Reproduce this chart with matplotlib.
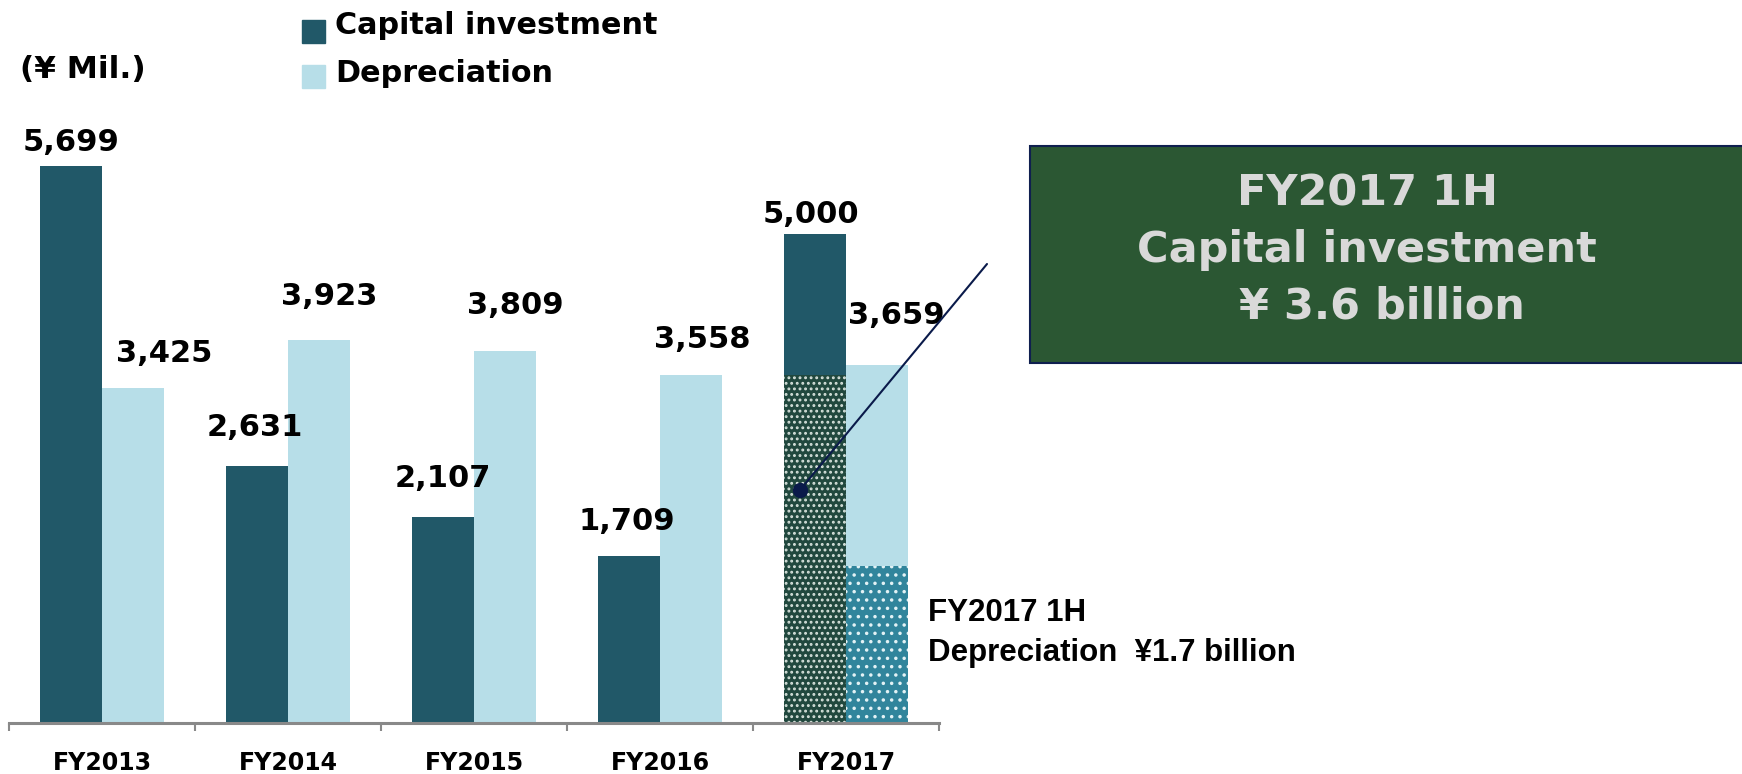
import matplotlib
matplotlib.use("Agg")
import matplotlib.pyplot as plt
import numpy as np

# ── Data ──────────────────────────────────────────────────────────────────────
years = ["FY2013", "FY2014", "FY2015", "FY2016", "FY2017"]
capex = [5699, 2631, 2107, 1709, 5000]
depr = [3425, 3923, 3809, 3558, 3659]
capex_1h = 3560   # FY2017 1H part of capital investment (drawn height)
depr_1h = 1610    # FY2017 1H part of depreciation (drawn height)

# label offsets in pixels (dx, dy to baseline) — layout only
capex_off = [(0, 15), (-2, 30), (0, 30), (-2, 26), (-4, 11)]
depr_off = [(31, 26), (10, 35), (10, 37), (11, 27), (19, 41)]

C_CAP = "#215868"
C_DEP = "#B7DEE8"
C_CAP_1H = "#21483E"
C_DEP_1H = "#31859C"

plt.rcParams["font.family"] = "DejaVu Sans"
plt.rcParams["hatch.linewidth"] = 1.3

fig = plt.figure(figsize=(17.42, 7.74), dpi=100)
ax = fig.add_axes([9 / 1742, 51 / 774, 930 / 1742, 723 / 774])

x = np.arange(len(years))
w = 0.333

ax.bar(x - w / 2, capex, w, color=C_CAP, lw=0)
ax.bar(x + w / 2, depr, w, color=C_DEP, lw=0)

# FY2017 1H overlays (dotted)
ax.bar(x[-1] - w / 2, capex_1h, w, color=C_CAP_1H, edgecolor="#D5E0DA", lw=0, hatch="...")
ax.bar(x[-1] + w / 2, depr_1h, w, color=C_DEP_1H, edgecolor="#E3F2F5", lw=0, hatch="..")

for i in range(len(years)):
    ax.annotate(f"{capex[i]:,}", (x[i] - w / 2, capex[i]), xytext=capex_off[i],
                textcoords="offset pixels", ha="center", va="baseline",
                fontsize=22, fontweight="bold", color="black")
    ax.annotate(f"{depr[i]:,}", (x[i] + w / 2, depr[i]), xytext=depr_off[i],
                textcoords="offset pixels", ha="center", va="baseline",
                fontsize=22, fontweight="bold", color="black")

ax.set_xlim(-0.5, len(years) - 0.5)
ax.set_ylim(0, 7397)
for s in ["top", "right", "left"]:
    ax.spines[s].set_visible(False)
ax.spines["bottom"].set_color("#898989")
ax.spines["bottom"].set_linewidth(2.2)
ax.set_yticks([])
ax.set_xticks(x)
ax.set_xticklabels(years, fontsize=17, fontweight="bold")
ax.tick_params(axis="x", which="major", length=0, pad=20)
ax.set_xticks(np.arange(-0.5, len(years)), minor=True)
ax.tick_params(axis="x", which="minor", length=6, width=1.5, color="#898989")

# annotation line from 1H bar to box
dot_x, dot_y = 3.753, 2384
ax.annotate("", xy=(dot_x, dot_y), xycoords="data",
            xytext=(987 / 1742, 1 - 264 / 774), textcoords="figure fraction",
            arrowprops=dict(arrowstyle="-", color="#0A1A4A", lw=1.5, shrinkA=0, shrinkB=0))
ax.plot([dot_x], [dot_y], "o", color="#0A1A4A", ms=10, clip_on=False)

# ── Texts outside the axes ────────────────────────────────────────────────────
fig.text(20 / 1742, 1 - 69 / 774, "(¥ Mil.)", fontsize=22.5, fontweight="bold",
         ha="left", va="center")

fig.patches.append(plt.Rectangle((302 / 1742, 1 - 43 / 774), 23 / 1742, 23 / 774,
                                 transform=fig.transFigure, color=C_CAP))
fig.patches.append(plt.Rectangle((302 / 1742, 1 - 88 / 774), 23 / 1742, 23 / 774,
                                 transform=fig.transFigure, color=C_DEP))
fig.text(335 / 1742, 1 - 26 / 774, "Capital investment", fontsize=21.8, fontweight="bold",
         ha="left", va="center")
fig.text(335 / 1742, 1 - 73 / 774, "Depreciation", fontsize=21.8, fontweight="bold",
         ha="left", va="center")

# green box
fig.patches.append(plt.Rectangle((1030 / 1742, 1 - 363 / 774), 720 / 1742, 217 / 774,
                                 transform=fig.transFigure, facecolor="#2B5733",
                                 edgecolor="#0F1F4F", lw=1.5))
fig.text(1367 / 1742, 1 - 250 / 774, "FY2017 1H\nCapital investment\n  ¥ 3.6 billion",
         fontsize=31, fontweight="bold", color="#D9D9D9", ha="center", va="center",
         multialignment="center", linespacing=1.45)

fig.text(928 / 1742, 1 - 613 / 774, "FY2017 1H", fontsize=22.5, fontweight="bold",
         family="Liberation Sans", ha="left", va="center")
fig.text(928 / 1742, 1 - 653 / 774, "Depreciation  ¥1.7 billion", fontsize=22.5,
         fontweight="bold", family="Liberation Sans", ha="left", va="center")

fig.savefig("out.png", dpi=100)
